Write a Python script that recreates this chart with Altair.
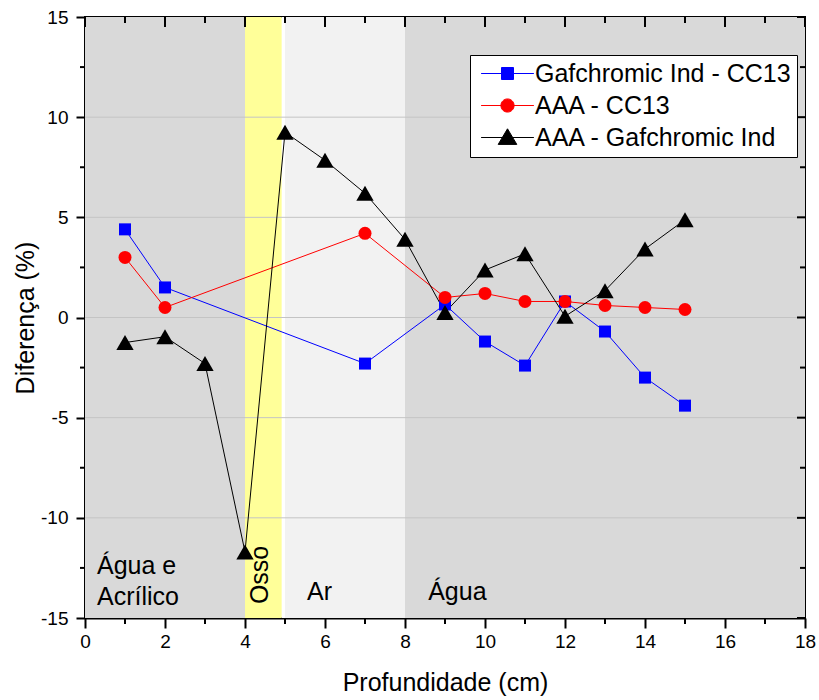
import altair as alt
import pandas as pd

# ---- data ----
series = ["Gafchromic Ind - CC13", "AAA - CC13", "AAA - Gafchromic Ind"]
x_gaf_cc = [1, 2, 7, 9, 10, 11, 12, 13, 14, 15]
y_gaf_cc = [4.4, 1.5, -2.3, 0.65, -1.2, -2.4, 0.8, -0.7, -3.0, -4.4]
x_aaa_cc = [1, 2, 7, 9, 10, 11, 12, 13, 14, 15]
y_aaa_cc = [3.0, 0.5, 4.2, 1.0, 1.2, 0.8, 0.8, 0.6, 0.5, 0.4]
x_aaa_gaf = [1, 2, 3, 4, 5, 6, 7, 8, 9, 10, 11, 12, 13, 14, 15]
y_aaa_gaf = [-1.25, -0.96, -2.3, -11.7, 9.25, 7.85, 6.2, 3.9, 0.25, 2.37, 3.18, 0.06, 1.34, 3.42, 4.88]

region_name = ["Água e Acrílico", "Osso", "borda", "Ar", "Água"]
region_start = [0, 4, 4.92, 5, 8]
region_end = [4, 4.92, 5, 8, 18]

ann_text = ["Água e", "Acrílico", "Ar", "Água"]
ann_x = [0.3, 0.3, 5.55, 8.58]
ann_y = [-12.4, -13.95, -13.7, -13.7]
osso_text = ["Osso"]
osso_x = [4.38]
osso_y = [-12.85]

x_major = list(range(0, 19, 2))
x_minor = list(range(1, 18, 2))
y_major = [-15, -10, -5, 0, 5, 10, 15]
y_minor = [-12.5, -7.5, -2.5, 2.5, 7.5, 12.5]
grid_vals = [-10, -5, 0, 5, 10]

# ---- styling ----
W, H = 720, 601
FONT = "Liberation Sans"
colors = ["#0000ff", "#ff0000", "#000000"]
shapes = ["square", "circle", "triangle-up"]
sizes = [144, 169, 300]
region_colors = ["#d9d9d9", "#ffff99", "#ffffff", "#f2f2f2", "#d9d9d9"]
legend_paths = [
    "M-4.4,0H4.4M-1,-1H1V1H-1Z",
    "M-4.4,0H4.4M-1.1,0A1.1,1.1,0,1,0,1.1,0A1.1,1.1,0,1,0,-1.1,0Z",
    "M-4.4,0H4.4M0,-1.45L1.55,1.15L-1.55,1.15Z",
]

rows = []
for name, xs, ys in zip(series, [x_gaf_cc, x_aaa_cc, x_aaa_gaf], [y_gaf_cc, y_aaa_cc, y_aaa_gaf]):
    for a, b in zip(xs, ys):
        rows.append({"serie": name, "x": a, "y": b})
df = pd.DataFrame(rows)

xsc = alt.Scale(domain=[0, 18], nice=False, zero=False)
ysc = alt.Scale(domain=[-15, 15], nice=False, zero=False)

xaxis = alt.Axis(values=x_major, title="Profundidade (cm)", labelExpr="'' + datum.value", grid=False,
                 tickSize=10, tickWidth=2, tickColor="black", ticks=True,
                 domainColor="black", domainWidth=2, labelFlush=False,
                 labelFont=FONT, labelFontSize=19, labelColor="black", labelPadding=4,
                 titleFont=FONT, titleFontSize=25, titleFontWeight="normal", titleColor="black",
                 titlePadding=19)
yaxis = alt.Axis(values=y_major, title="Diferença (%)", labelExpr="'' + datum.value", grid=False,
                 tickSize=9, tickWidth=2, tickColor="black", ticks=True,
                 domainColor="black", domainWidth=2, labelFlush=False,
                 labelFont=FONT, labelFontSize=19, labelColor="black", labelPadding=8,
                 titleFont=FONT, titleFontSize=25, titleFontWeight="normal", titleColor="black",
                 titlePadding=2)

regions = pd.DataFrame({"region": region_name, "x0": region_start, "x1": region_end})
bg = alt.Chart(regions).mark_rect(strokeWidth=0).encode(
    x=alt.X("x0:Q", scale=xsc, axis=xaxis),
    x2="x1:Q",
    y=alt.value(0),
    y2=alt.value(H),
    color=alt.Color("region:N", scale=alt.Scale(domain=region_name, range=region_colors), legend=None),
)

grid = alt.Chart(pd.DataFrame({"v": grid_vals})).mark_rule(color="#c4c4c4", strokeWidth=1).encode(
    y=alt.Y("v:Q", scale=ysc, axis=yaxis)
)

# extra ticks (minor outward, top/right inward)
def vticks(vals, y0, y1):
    return alt.Chart(pd.DataFrame({"v": vals})).mark_rule(color="black", strokeWidth=2).encode(
        x=alt.X("v:Q", scale=xsc), y=alt.value(y0), y2=alt.value(y1))

def hticks(vals, x0, x1):
    return alt.Chart(pd.DataFrame({"v": vals})).mark_rule(color="black", strokeWidth=2).encode(
        y=alt.Y("v:Q", scale=ysc), x=alt.value(x0), x2=alt.value(x1))

bottom_minor = vticks(x_minor, H, H + 6)
top_major = vticks(x_major, 0, 10)
top_minor = vticks(x_minor, 0, 6)
left_minor = hticks(y_minor, -5, 0)
right_major = hticks(y_major, W - 8, W)
right_minor = hticks(y_minor, W - 5, W)

line_layers = []
point_layers = []
for name, c, s, sz in zip(series, colors, shapes, sizes):
    base = alt.Chart(df).transform_filter(alt.datum.serie == name)
    line_layers.append(
        base.mark_line(strokeWidth=1, color=c).encode(
            x=alt.X("x:Q", scale=xsc), y=alt.Y("y:Q", scale=ysc))
    )
    point_layers.append(
        base.mark_point(filled=True, shape=s, size=sz, color=c, opacity=1).encode(
            x=alt.X("x:Q", scale=xsc), y=alt.Y("y:Q", scale=ysc))
    )

legend = alt.Legend(
    title=None, orient="none", legendX=385, legendY=38,
    fillColor="white", strokeColor="black", padding=6,
    labelFont=FONT, labelFontSize=25, labelColor="black", labelLimit=500,
    symbolSize=144, symbolStrokeWidth=1, symbolOffset=19, labelOffset=15,
    rowPadding=6,
)
legend_layer = alt.Chart(df).transform_filter("false").mark_point(filled=True, size=144, opacity=1).encode(
    x=alt.X("x:Q", scale=xsc),
    y=alt.Y("y:Q", scale=ysc),
    fill=alt.Fill("serie:N", scale=alt.Scale(domain=series, range=colors), legend=legend),
    stroke=alt.Stroke("serie:N", scale=alt.Scale(domain=series, range=colors), legend=legend),
    shape=alt.Shape("serie:N", scale=alt.Scale(domain=series, range=legend_paths), legend=legend),
)

ann = alt.Chart(pd.DataFrame({"t": ann_text, "x": ann_x, "y": ann_y})).mark_text(
    font=FONT, fontSize=25, align="left", baseline="middle", color="black"
).encode(x=alt.X("x:Q", scale=xsc), y=alt.Y("y:Q", scale=ysc), text="t:N")

osso = alt.Chart(pd.DataFrame({"t": osso_text, "x": osso_x, "y": osso_y})).mark_text(
    font=FONT, fontSize=25, align="center", baseline="middle", color="black", angle=270
).encode(x=alt.X("x:Q", scale=xsc), y=alt.Y("y:Q", scale=ysc), text="t:N")

chart = alt.layer(
    bg, grid, *line_layers, *point_layers, ann, osso, legend_layer,
    bottom_minor, left_minor, top_major, top_minor, right_major, right_minor,
).properties(
    width=W, height=H,
    autosize="none",
    background="white",
    padding={"left": 85, "top": 17, "right": 14, "bottom": 82},
).configure_view(stroke="black", strokeWidth=2)

chart.save("out.html", embed_options={"renderer": "svg", "actions": False})
